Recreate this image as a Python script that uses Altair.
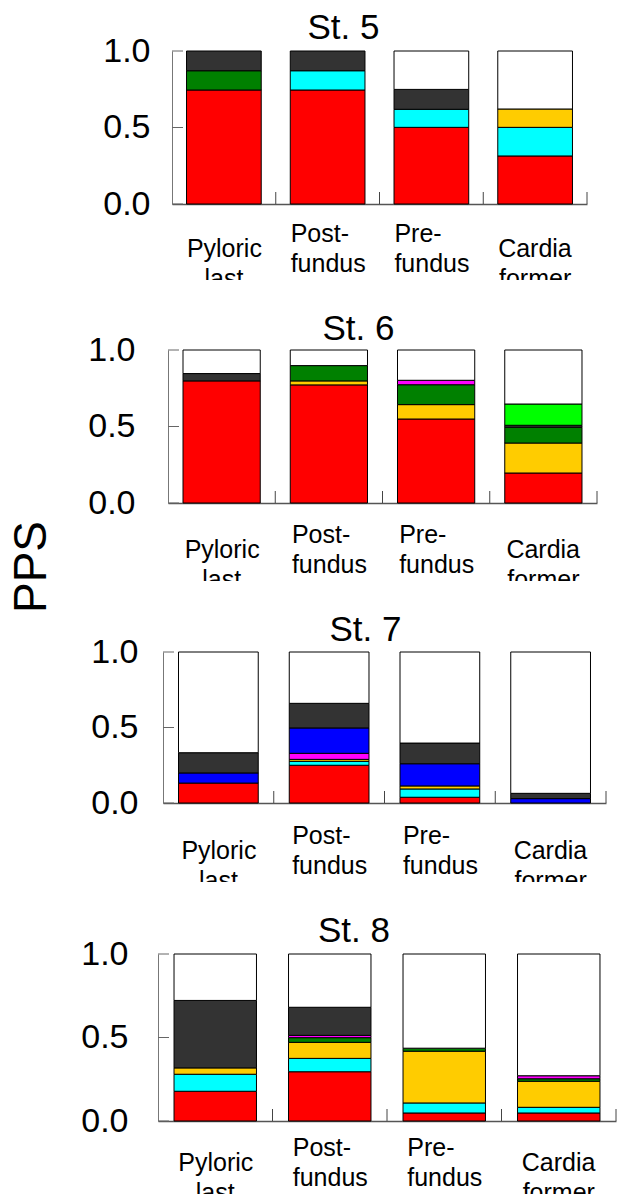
import altair as alt
import pandas as pd

FONT = "Liberation Sans"

stages = ["St. 5", "St. 6", "St. 7", "St. 8"]
categories = ["Pyloric", "Post-fundus", "Pre-fundus", "Cardia"]
category_labels = ["Pyloric", "Post-\nfundus", "Pre-\nfundus", "Cardia"]
# second lines that are mostly hidden in the original figure
hidden_categories = ["Pyloric", "Cardia"]
hidden_lines = ["last", "former"]

# stacking order, bottom to top
components = ["red", "cyan", "yellow", "green", "magenta", "blue", "dark", "lime", "white"]
colors = ["#FF0000", "#00FFFF", "#FFCC00", "#008000", "#FF00FF", "#0000FF", "#333333", "#00FF00", "#FFFFFF"]

#            red    cyan   yellow green  magenta blue   dark   lime   white
st5 = [
    [0.745, 0.0,   0.0,   0.126, 0.0,   0.0,   0.129, 0.0,   0.0],
    [0.745, 0.126, 0.0,   0.0,   0.0,   0.0,   0.129, 0.0,   0.0],
    [0.501, 0.118, 0.0,   0.0,   0.0,   0.0,   0.130, 0.0,   0.251],
    [0.314, 0.187, 0.120, 0.0,   0.0,   0.0,   0.0,   0.0,   0.379],
]
st6 = [
    [0.798, 0.0,   0.0,   0.0,   0.0,   0.0,   0.048, 0.0,   0.154],
    [0.772, 0.0,   0.026, 0.100, 0.0,   0.0,   0.0,   0.0,   0.102],
    [0.549, 0.0,   0.094, 0.130, 0.029, 0.0,   0.0,   0.0,   0.198],
    [0.196, 0.0,   0.196, 0.103, 0.0,   0.0,   0.013, 0.139, 0.353],
]
st7 = [
    [0.132, 0.0,   0.0,   0.0,   0.0,   0.067, 0.134, 0.0,   0.667],
    [0.250, 0.026, 0.013, 0.0,   0.040, 0.168, 0.163, 0.0,   0.340],
    [0.038, 0.055, 0.020, 0.0,   0.0,   0.147, 0.137, 0.0,   0.603],
    [0.0,   0.0,   0.0,   0.0,   0.0,   0.029, 0.035, 0.0,   0.936],
]
st8 = [
    [0.178, 0.102, 0.038, 0.0,   0.0,   0.0,   0.404, 0.0,   0.278],
    [0.295, 0.080, 0.096, 0.028, 0.014, 0.0,   0.168, 0.0,   0.319],
    [0.048, 0.060, 0.310, 0.018, 0.0,   0.0,   0.0,   0.0,   0.564],
    [0.048, 0.034, 0.156, 0.015, 0.018, 0.0,   0.0,   0.0,   0.729],
]
stage_values = [st5, st6, st7, st8]
y_ticks = [0.0, 0.5, 1.0]

rows = []
for s, vals in zip(stages, stage_values):
    for c, comp_vals in zip(categories, vals):
        for k, (comp, v) in enumerate(zip(components, comp_vals)):
            if v > 0:
                rows.append({"stage": s, "category": c, "component": comp,
                             "value": v, "order": k})
df = pd.DataFrame(rows)
label_df = pd.DataFrame({"category": categories, "label": category_labels})
hidden_df = pd.DataFrame({"category": hidden_categories, "label": hidden_lines})
ytick_df = pd.DataFrame({"value": y_ticks})

# per-panel layout: width, height, label padding, title dx, title offset, label dy, spacer
layout = [
    (415, 153, 22, -36, 12, 45, 42),
    (429, 153, 33, -24, 10, 47, 27),
    (443, 151, 25, -19, 11, 48, 30),
    (458, 167, 30, -33, 12, 42, 20),
]


def make_panel(stage, w, h, lpad, tdx, toff, ldy):
    xscale = alt.Scale(paddingInner=0.28, paddingOuter=0.14)
    xaxis = alt.Axis(labels=False, ticks=False, title=None, domainColor="#555555",
                     domainWidth=1.5, grid=False)
    yscale = alt.Scale(domain=[0, 1], nice=False)
    yaxis = alt.Axis(values=y_ticks, format=".1f", labelFontSize=34, labelFont=FONT,
                     labelColor="black", labelPadding=lpad, ticks=False, tickSize=0,
                     domainColor="#777777", grid=False, title=None)
    X = alt.X("category:N", sort=categories, scale=xscale, axis=xaxis)

    bars = alt.Chart(df).transform_filter(alt.datum.stage == stage).mark_bar(
        stroke="black", strokeWidth=1
    ).encode(
        x=X,
        y=alt.Y("value:Q", stack="zero", scale=yscale, axis=yaxis),
        color=alt.Color("component:N", scale=alt.Scale(domain=components, range=colors),
                        legend=None),
        order=alt.Order("order:Q"),
    )
    yt = alt.Chart(ytick_df).mark_rule(color="#666666").encode(
        y=alt.Y("value:Q", scale=yscale, axis=yaxis),
        x=alt.value(0), x2=alt.value(11),
    )
    xt = alt.Chart(label_df).mark_rule(color="#444444", xOffset=w / 8.0).encode(
        x=X, y=alt.value(h - 12), y2=alt.value(h),
    )
    text_style = dict(baseline="middle", fontSize=25, font=FONT, lineBreak="\n",
                      lineHeight=30, color="black")
    hidden = alt.Chart(hidden_df).mark_text(align="center", **text_style).encode(
        x=X, y=alt.value(h + ldy + 30), text="label:N")
    mask = alt.Chart(hidden_df).mark_bar(color="white").encode(
        x=X, y=alt.value(h + ldy + 31), y2=alt.value(h + ldy + 45))
    single = alt.Chart(label_df).transform_filter(
        "indexof(datum.label, '\\n') < 0"
    ).mark_text(align="left", dx=-37, **text_style).encode(
        x=X, y=alt.value(h + ldy), text="label:N")
    multi = alt.Chart(label_df).transform_filter(
        "indexof(datum.label, '\\n') >= 0"
    ).mark_text(align="left", dx=-37, **text_style).encode(
        x=X, y=alt.value(h + ldy - 15), text="label:N")
    title = alt.Chart(pd.DataFrame({"t": [stage]})).mark_text(
        align="center", baseline="alphabetic", fontSize=35, font=FONT, color="black"
    ).encode(text="t:N", x=alt.value(w / 2.0 + tdx), y=alt.value(-toff))

    return alt.layer(bars, yt, xt, hidden, mask, single, multi, title).properties(
        width=w, height=h)


row_charts = []
for stage, (w, h, lpad, tdx, toff, ldy, sp) in zip(stages, layout):
    spacer = alt.Chart(pd.DataFrame({"a": [0]})).mark_text(text="").encode(
        x=alt.value(0), y=alt.value(0)).properties(width=sp, height=1)
    row_charts.append(alt.hconcat(spacer, make_panel(stage, w, h, lpad, tdx, toff, ldy),
                                  spacing=0))

panels = alt.vconcat(*row_charts, spacing=18)

pps = alt.Chart(pd.DataFrame({"t": ["PPS"]})).mark_text(
    angle=270, fontSize=46, font=FONT, align="center", baseline="middle", color="black"
).encode(text="t:N", x=alt.value(32), y=alt.value(516)).properties(width=60, height=20)

chart = alt.hconcat(pps, panels, spacing=0).properties(
    padding={"left": 0, "top": 11, "right": 0, "bottom": 0}
).configure_view(stroke=None)

chart.save("out.html", embed_options={"renderer": "svg", "actions": False})
